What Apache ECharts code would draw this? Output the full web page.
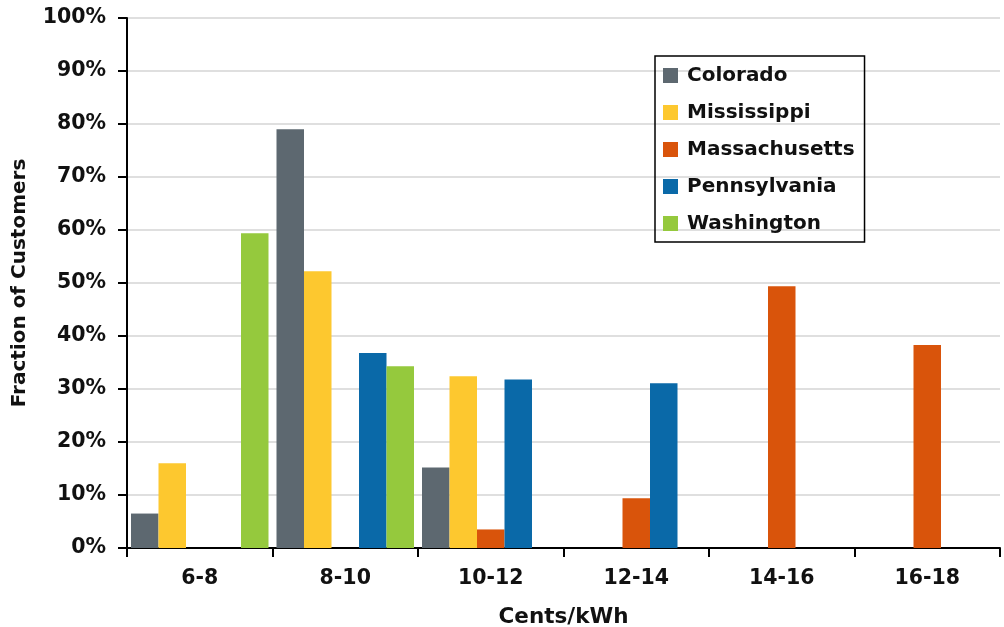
<!DOCTYPE html>
<html><head><meta charset="utf-8">
<script src="https://cdn.jsdelivr.net/npm/echarts@6/dist/echarts.min.js"></script>
<style>html,body{margin:0;padding:0;background:#fff}#c{width:1004px;height:627px}</style>
</head><body><div id="c"></div>
<script>
const categories = ['6-8','8-10','10-12','12-14','14-16','16-18'];
const seriesNames = ['Colorado','Mississippi','Massachusetts','Pennsylvania','Washington'];
const colorado      = [6.5, 79, 15.2, null, null, null];
const mississippi   = [16, 52.2, 32.4, null, null, null];
const massachusetts = [null, null, 3.5, 9.4, 49.4, 38.3];
const pennsylvania  = [null, 36.8, 31.8, 31.1, null, null];
const washington    = [59.4, 34.3, null, null, null, null];
const yTicks = [0,10,20,30,40,50,60,70,80,90,100];
const colors = ['#5d6870','#fdc82f','#d9540b','#0a69a8','#95c93d'];
const values = [colorado, mississippi, massachusetts, pennsylvania, washington];
const FONT = 'DejaVu Sans';
const chart = echarts.init(document.getElementById('c'), null, {renderer:'canvas'});
chart.setOption({
  animation:false,
  backgroundColor:'#fff',
  grid:{left:127,right:4,top:18,bottom:79,containLabel:false,outerBoundsMode:'none'},
  legend:{
    orient:'vertical', left:655, top:56,
    data:seriesNames,
    itemWidth:15, itemHeight:15, itemGap:14,
    padding:[8,10,7,8],
    borderColor:'#000', borderWidth:1.5,
    textStyle:{fontFamily:FONT,fontWeight:'bold',fontSize:20,color:'#111',padding:[0,0,0,4],height:23,lineHeight:23},
    icon:'rect'
  },
  xAxis:{
    type:'category', data:categories,
    name:'Cents/kWh', nameLocation:'middle', nameGap:58,
    nameTextStyle:{fontFamily:FONT,fontWeight:'bold',fontSize:21.5,color:'#111'},
    axisLine:{lineStyle:{color:'#000',width:2}},
    axisTick:{show:true,length:9,lineStyle:{color:'#000',width:2},alignWithLabel:false},
    axisLabel:{fontFamily:FONT,fontWeight:'bold',fontSize:20.5,color:'#111',margin:20}
  },
  yAxis:{
    type:'value', min:0, max:100, interval:10,
    name:'Fraction of Customers', nameLocation:'middle', nameGap:97, nameRotate:90,
    nameTextStyle:{fontFamily:FONT,fontWeight:'bold',fontSize:20,color:'#111'},
    axisLine:{show:true,lineStyle:{color:'#000',width:2}},
    axisTick:{show:true,length:9,lineStyle:{color:'#000',width:2}},
    splitLine:{lineStyle:{color:'#d5d5d5',width:1.5}},
    axisLabel:{fontFamily:FONT,fontWeight:'bold',fontSize:20.5,color:'#111',margin:21,
      formatter:v=> yTicks.includes(v) ? v+'%' : ''}
  },
  series: seriesNames.map((n,i)=>({
    name:n, type:'bar', data:values[i],
    itemStyle:{color:colors[i]},
    barGap:'0%', barWidth:27.5
  }))
});
</script></body></html>
